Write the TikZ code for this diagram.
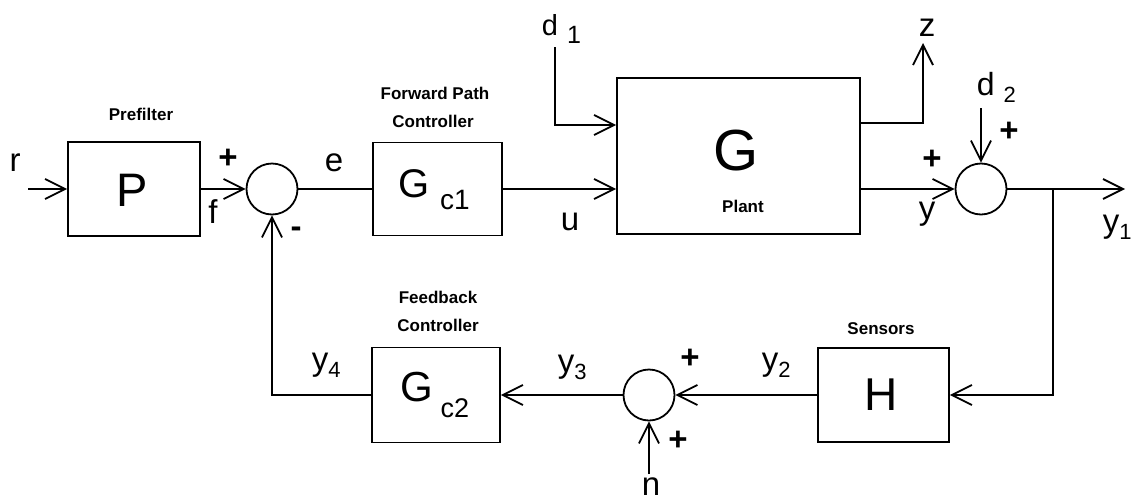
\documentclass[tikz,border=0pt]{standalone}
\usepackage{fontspec}
\setmainfont{Liberation Sans}
\usetikzlibrary{arrows.meta}
\begin{document}
\begin{tikzpicture}[x=1pt,y=-1pt,
  line width=1.8pt,
  blk/.style={draw, rectangle, line width=1.8pt, inner sep=0pt},
  sumj/.style={draw, circle, minimum size=51pt, inner sep=0pt, line width=1.8pt},
  lbl/.style={inner sep=0pt, font=\fontsize{33}{33}\selectfont},
  sgn/.style={inner sep=0pt, font=\bfseries\fontsize{33}{33}\selectfont},
  ttl/.style={inner sep=0pt, font=\bfseries\fontsize{17}{17}\selectfont},
  arr/.style={-{Straight Barb[length=20pt,width=20pt]}},
]
\useasboundingbox (0,0) rectangle (1132,501);
\newcommand{\subsc}[1]{\raisebox{-7pt}{\fontsize{22}{22}\selectfont #1}}

% blocks
\node[blk, minimum width=132pt, minimum height=94pt] (P) at (134,189) {};
\node[blk, minimum width=129pt, minimum height=93pt] (Gc1) at (437.5,189) {};
\node[blk, minimum width=243pt, minimum height=156pt] (G) at (738.5,156) {};
\node[blk, minimum width=131pt, minimum height=94pt] (H) at (883.5,395) {};
\node[blk, minimum width=128pt, minimum height=95pt] (Gc2) at (436,395) {};

% summing junctions
\node[sumj] (s1) at (272,189) {};
\node[sumj] (s2) at (981,189) {};
\node[sumj] (s3) at (649,395) {};

% block texts
\node[inner sep=0pt, font=\fontsize{47}{47}\selectfont] (tP) at (132,190) {P};
\node[inner sep=0pt, font=\fontsize{40}{40}\selectfont] (tGc1) at (414,184) {G};
\node[inner sep=0pt, font=\fontsize{28}{28}\selectfont] (tGc1s) at (455,200) {c1};
\node[inner sep=0pt, font=\fontsize{58}{58}\selectfont] (tG) at (736,151) {G};
\node[ttl] (tPlant) at (743,206) {Plant};
\node[inner sep=0pt, font=\fontsize{46}{46}\selectfont] (tH) at (881,395) {H};
\node[inner sep=0pt, font=\fontsize{42}{42}\selectfont] (tGc2) at (417,387) {G};
\node[inner sep=0pt, font=\fontsize{27}{27}\selectfont] (tGc2s) at (455,408) {c2};

% titles
\node[ttl] (tPre) at (141,114) {Prefilter};
\node[ttl] (tFw1) at (435,93) {Forward Path};
\node[ttl] (tFw2) at (433,121) {Controller};
\node[ttl] (tFb1) at (438,297) {Feedback};
\node[ttl] (tFb2) at (438,325) {Controller};
\node[ttl] (tSen) at (881,329) {Sensors};

% signal labels
\node[lbl] (lr) at (15,163) {r};
\node[lbl] (lf) at (213,212) {f};
\node[lbl] (le) at (334,163) {e};
\node[lbl] (lu) at (570,222) {u};
\node[lbl] (ly) at (927,214) {y};
\node[lbl] (lz) at (927,28) {z};
\node[lbl, anchor=base west, font=\fontsize{29}{29}\selectfont] (ld1) at (541,35) {d\hspace{9pt}\raisebox{-8pt}{\fontsize{25}{25}\selectfont 1}};
\node[lbl, anchor=base west, font=\fontsize{32}{32}\selectfont] (ld2) at (976,95) {d\hspace{9pt}\raisebox{-7pt}{\fontsize{22}{22}\selectfont 2}};
\node[lbl, anchor=base west] (ly1) at (1102,232) {y\subsc{1}};
\node[lbl, anchor=base west] (ly2) at (761,370) {y\subsc{2}};
\node[lbl, anchor=base west] (ly3) at (557,372) {y\subsc{3}};
\node[lbl, anchor=base west] (ly4) at (311,370) {y\subsc{4}};
\node[lbl] (ln) at (651,487) {n};

% signs
\node[sgn] (p1) at (228,159) {+};
\node[sgn] (m1) at (296,232) {-};
\node[sgn] (p2a) at (932,160) {+};
\node[sgn] (p2b) at (1009,132) {+};
\node[sgn] (p3a) at (690,359) {+};
\node[sgn] (p3b) at (678,441) {+};

% connectors
\coordinate (rin) at (28,189);
\draw[arr] (rin) -- (P);
\draw[arr] (P) -- (s1);
\draw (s1) -- (Gc1);
\draw[arr] (Gc1) -- (Gc1 -| G.west);
\coordinate (d1top) at (555,47);
\coordinate (d1c) at (555,125);
\draw[arr] (d1top) -- (d1c) -- (d1c -| G.west);
\coordinate (zc) at (923,123);
\coordinate (ztip) at (923,43);
\draw[arr] (zc -| G.east) -- (zc) -- (ztip);
\draw[arr] (s2 -| G.east) -- (s2);
\coordinate (d2top) at (981,108);
\draw[arr] (d2top) -- (s2);
\coordinate (outend) at (1125,189);
\draw[arr] (s2) -- (outend);
\coordinate (br) at (1053,189);
\coordinate (brb) at (1053,395);
\draw[arr] (br) -- (brb) -- (H);
\draw[arr] (H) -- (s3);
\coordinate (nb) at (649,474);
\draw[arr] (nb) -- (s3);
\draw[arr] (s3) -- (Gc2);
\coordinate (fbc) at (272,395);
\draw[arr] (Gc2) -- (fbc) -- (s1);
\end{tikzpicture}
\end{document}
